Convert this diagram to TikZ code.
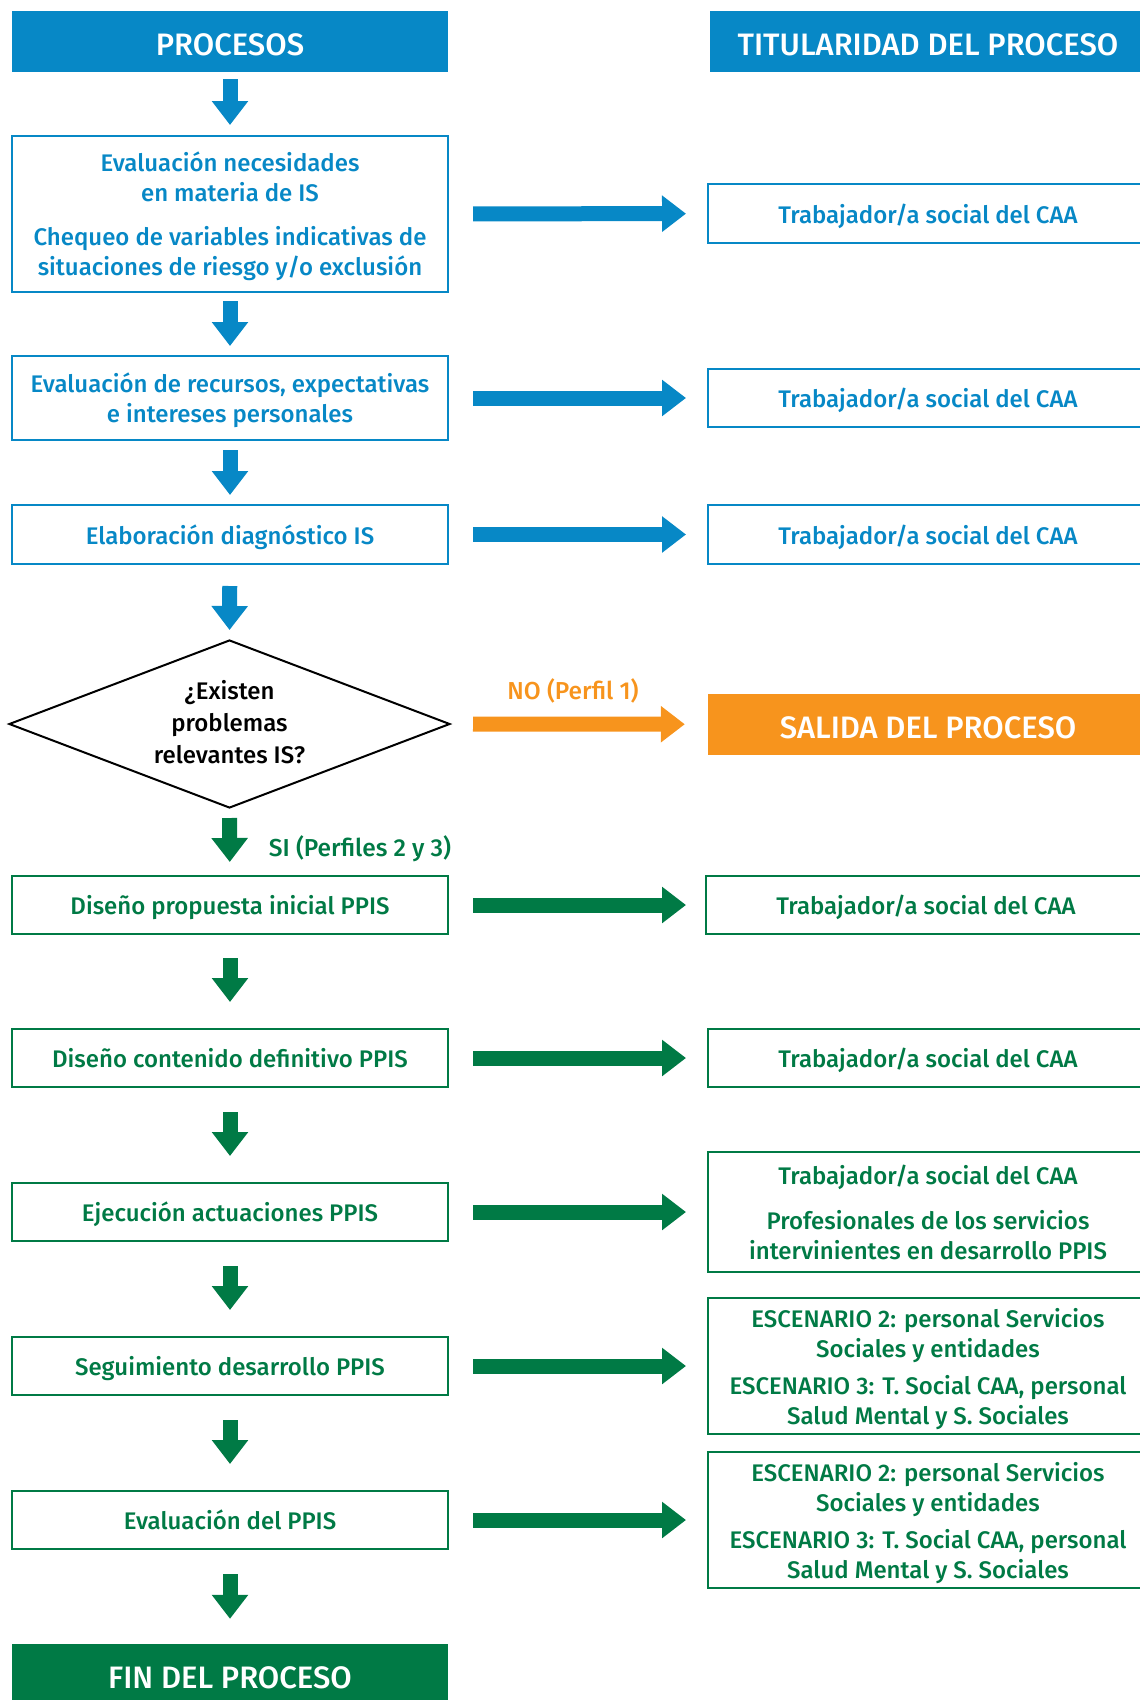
\documentclass[tikz,border=0pt]{standalone}
\usepackage{fontspec}
\setmainfont{Fira Sans}[UprightFont={* Medium}]
\usetikzlibrary{arrows.meta,shapes.geometric}
\definecolor{azulIS}{RGB}{7,136,198}
\definecolor{verdeIS}{RGB}{0,122,69}
\definecolor{naranjaIS}{RGB}{247,148,29}

\begin{document}
\begin{tikzpicture}[x=1pt,y=1pt,yscale=-1,xscale=1,
	cabecera/.style={fill=#1, draw=none, text=white, minimum width=436pt, inner sep=0pt, text height=27pt, text depth=0pt, font=\fontsize{31}{36}\selectfont},
	caja/.style={draw=#1, line width=2pt, fill=white, text=#1, minimum width=436pt, inner sep=0pt, text depth=0pt, align=center, font=\fontsize{24}{30}\selectfont},
	cajader/.style={caja=#1, minimum width=440pt},
	flecha/.style={draw=#1, line width=15pt, -{Triangle[width=35pt,length=24pt]}},
	etiqueta/.style={text=#1, inner sep=0.75pt, font=\fontsize{24.5}{28}\selectfont}
	]
	\useasboundingbox (0,0) rectangle (1140,1700);
	
	% Cabeceras
	\node (hproc) at (230,41.5) [cabecera=azulIS, minimum height=61pt] {PROCESOS};
	\node (htit) at (928,41.5) [cabecera=azulIS, minimum height=61pt] {TITULARIDAD DEL PROCESO};
	
	% Text Node
	\node (eval) at (230,214) [caja=azulIS, minimum height=156pt] {Evaluación necesidades\\en materia de IS\\[14pt]Chequeo de variables indicativas de\\situaciones de riesgo y/o exclusión};
	% Text Node
	\node (recur) at (230,398) [caja=azulIS, minimum height=84pt] {Evaluación de recursos, expectativas\\e intereses personales};
	% Text Node
	\node (diag) at (230,534.5) [caja=azulIS, minimum height=59pt] {Elaboración diagnóstico IS};
	% Decision
	\node (exist) at (229.5,724) [diamond, aspect=2.625, draw=black, line width=2pt, fill=white, minimum width=441pt, minimum height=168pt, inner sep=0pt, text depth=4pt, align=center, font=\fontsize{24}{32}\selectfont] {¿Existen\\problemas\\relevantes IS?};
	% Text Node
	\node (prop) at (230,905) [caja=verdeIS, minimum height=58pt] {Diseño propuesta inicial PPIS};
	% Text Node
	\node (cont) at (230,1058) [caja=verdeIS, minimum height=58pt] {Diseño contenido definitivo PPIS};
	% Text Node
	\node (ejec) at (230,1212) [caja=verdeIS, minimum height=58pt] {Ejecución actuaciones PPIS};
	% Text Node
	\node (segu) at (230,1366) [caja=verdeIS, minimum height=58pt] {Seguimiento desarrollo PPIS};
	% Text Node
	\node (evppis) at (230,1520) [caja=verdeIS, minimum height=58pt] {Evaluación del PPIS};
	% Text Node
	\node (fin) at (230,1675) [cabecera=verdeIS, minimum height=62pt] {FIN DEL PROCESO};
	
	% Titularidad
	\node (t1) at (928,213.5) [cajader=azulIS, minimum height=59pt] {Trabajador/a social del CAA};
	\node (t2) at (928,398) [cajader=azulIS, minimum height=58pt] {Trabajador/a social del CAA};
	\node (t3) at (928,534.5) [cajader=azulIS, minimum height=59pt] {Trabajador/a social del CAA};
	\node (salida) at (928,724.5) [cabecera=naranjaIS, minimum width=440pt, minimum height=61pt] {SALIDA DEL PROCESO};
	\node (t5) at (926,905) [cajader=verdeIS, minimum height=58pt] {Trabajador/a social del CAA};
	\node (t6) at (928,1058) [cajader=verdeIS, minimum height=58pt] {Trabajador/a social del CAA};
	\node (t7) at (928,1212) [cajader=verdeIS, minimum height=120pt] {Trabajador/a social del CAA\\[15pt]Profesionales de los servicios\\intervinientes en desarrollo PPIS};
	\node (t8) at (928,1366) [cajader=verdeIS, minimum height=136pt] {ESCENARIO 2: personal Servicios\\Sociales y entidades\\[7pt]ESCENARIO 3: T. Social CAA, personal\\Salud Mental y S. Sociales};
	\node (t9) at (928,1520) [cajader=verdeIS, minimum height=136pt] {ESCENARIO 2: personal Servicios\\Sociales y entidades\\[7pt]ESCENARIO 3: T. Social CAA, personal\\Salud Mental y S. Sociales};
	
	%Straight Lines
	\draw [flecha=azulIS, shorten <=7pt, shorten >=10pt] (hproc) -- (eval);
	\draw [flecha=azulIS, shorten <=8pt, shorten >=9pt] (eval) -- (recur);
	\draw [flecha=azulIS, shorten <=9pt, shorten >=9pt] (recur) -- (diag);
	\draw [flecha=azulIS, shorten <=21pt, shorten >=9pt] (diag) -- (exist.north);
	\draw [flecha=verdeIS, shorten <=9pt, shorten >=13pt] (exist.south) -- (prop);
	\draw [flecha=verdeIS, shorten <=23pt, shorten >=26pt] (prop) -- (cont);
	\draw [flecha=verdeIS, shorten <=24pt, shorten >=26pt] (cont) -- (ejec);
	\draw [flecha=verdeIS, shorten <=24pt, shorten >=26pt] (ejec) -- (segu);
	\draw [flecha=verdeIS, shorten <=24pt, shorten >=26pt] (segu) -- (evppis);
	\draw [flecha=verdeIS, shorten <=24pt, shorten >=25pt] (evppis) -- (fin);
	
	%Straight Lines
	\draw [flecha=azulIS, shorten <=24pt, shorten >=21pt] (eval) -- (t1);
	\draw [flecha=azulIS, shorten <=24pt, shorten >=21pt] (recur) -- (t2);
	\draw [flecha=azulIS, shorten <=24pt, shorten >=21pt] (diag) -- (t3);
	\draw [flecha=naranjaIS, shorten <=22pt, shorten >=23pt] (exist.east) -- (salida);
	\draw [flecha=verdeIS, shorten <=24pt, shorten >=19pt] (prop) -- (t5);
	\draw [flecha=verdeIS, shorten <=24pt, shorten >=21pt] (cont) -- (t6);
	\draw [flecha=verdeIS, shorten <=24pt, shorten >=21pt] (ejec) -- (t7);
	\draw [flecha=verdeIS, shorten <=24pt, shorten >=21pt] (segu) -- (t8);
	\draw [flecha=verdeIS, shorten <=24pt, shorten >=21pt] (evppis) -- (t9);
	
	% Text Node
	\node (no) at (573,691) [etiqueta=naranjaIS] {NO (Perfil 1)};
	% Text Node
	\node (si) at (268,849) [etiqueta=verdeIS, anchor=west] {SI (Perfiles 2 y 3)};
	
\end{tikzpicture}
\end{document}
